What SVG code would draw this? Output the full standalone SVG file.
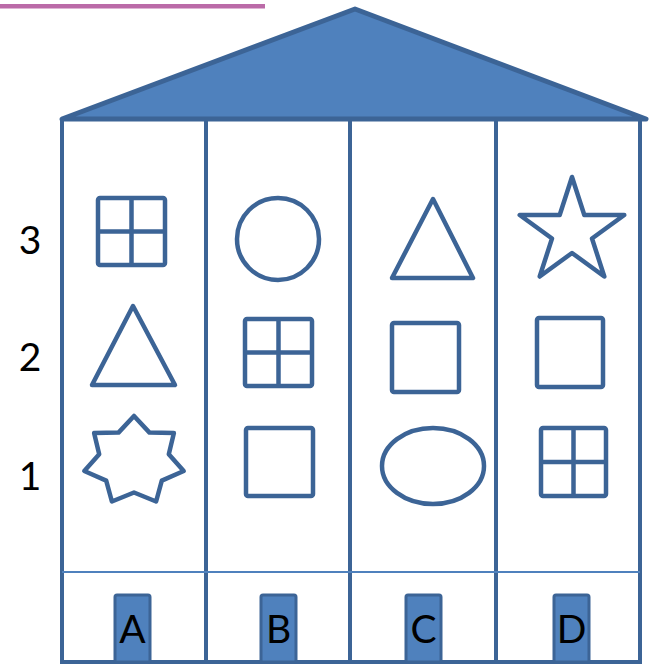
<svg xmlns="http://www.w3.org/2000/svg" width="652" height="664" viewBox="0 0 652 664">
<style>
.wall{stroke:#3c6496;stroke-width:4;fill:none}
.shape{stroke:#3c6496;stroke-width:4.5;fill:#ffffff;stroke-linejoin:round}
.grid{stroke:#3c6496;stroke-width:4.5;fill:none}
.lbl{font-family:Lato,"Open Sans","Liberation Sans",sans-serif;font-size:39px;fill:#000}
.box{fill:#4f81bd;stroke:#3c6496;stroke-width:3}
</style>
<rect width="652" height="664" fill="#ffffff"/>
<rect x="0" y="4" width="265" height="4.5" fill="#bb6ba8"/>
<g id="building">
<polygon points="62,119 355,9 646,119" fill="#4f81bd" stroke="#3c6496" stroke-width="5" stroke-linejoin="round"/>
<path class="wall" d="M62,119 V662 H640 V119 M206,119 V662 M350,119 V662 M496,119 V662"/>
<line x1="62" y1="572" x2="640" y2="572" stroke="#4f81bd" stroke-width="2"/>
</g>
<g id="row-labels">
<text class="lbl" x="30" y="254" text-anchor="middle">3</text>
<text class="lbl" x="30" y="371" text-anchor="middle">2</text>
<text class="lbl" x="30" y="490" text-anchor="middle">1</text>
</g>
<g id="A3"><rect class="grid" x="98" y="198" width="67" height="67" rx="2"/><path class="grid" d="M131.5,198 V265 M98,231.5 H165"/></g>
<g id="A2"><polygon class="shape" points="133,306 175,385 92,385"/></g>
<g id="A1"><polygon class="shape" points="134,416 149.5,432.6 173.9,432.9 168.8,454.3 183.7,471 161.8,480.6 156.1,501.5 134,492.5 111.9,501.5 106.2,480.6 84.3,471 99.2,454.3 94.1,432.9 118.5,432.6"/></g>
<g id="B3"><circle class="shape" cx="278" cy="239" r="41"/></g>
<g id="B2"><rect class="grid" x="245" y="319" width="67" height="67" rx="2"/><path class="grid" d="M278.5,319 V386 M245,352.5 H312"/></g>
<g id="B1"><rect class="shape" x="246" y="428" width="67" height="68" rx="2"/></g>
<g id="C3"><polygon class="shape" points="433,199 473,278 392,278"/></g>
<g id="C2"><rect class="shape" x="392" y="323" width="67" height="69" rx="2"/></g>
<g id="C1"><ellipse class="shape" cx="433" cy="466" rx="51" ry="38"/></g>
<g id="D3"><polygon class="shape" points="572,177 584.3,215 624.3,215 592,238.5 604.3,276.5 572,253 539.7,276.5 552,238.5 519.7,215 559.7,215"/></g>
<g id="D2"><rect class="shape" x="537" y="318" width="66" height="69" rx="2"/></g>
<g id="D1"><rect class="grid" x="541" y="428" width="65" height="68" rx="2"/><path class="grid" d="M573.5,428 V496 M541,462 H606"/></g>
<g id="A"><rect class="box" x="115" y="595" width="35" height="67" rx="2"/><text class="lbl" x="132.5" y="643" text-anchor="middle">A</text></g>
<g id="B"><rect class="box" x="261" y="595" width="35" height="67" rx="2"/><text class="lbl" x="278.5" y="643" text-anchor="middle">B</text></g>
<g id="C"><rect class="box" x="406" y="595" width="35" height="67" rx="2"/><text class="lbl" x="423.5" y="643" text-anchor="middle">C</text></g>
<g id="D"><rect class="box" x="554" y="595" width="35" height="67" rx="2"/><text class="lbl" x="571.5" y="643" text-anchor="middle">D</text></g>
</svg>
